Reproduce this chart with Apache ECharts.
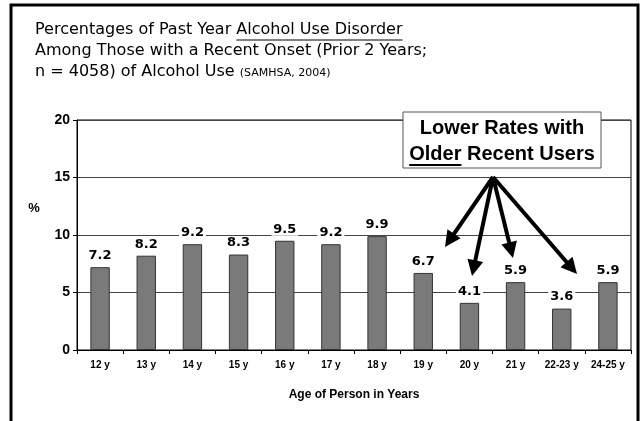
<!DOCTYPE html>
<html><head><meta charset="utf-8">
<script src="https://cdn.jsdelivr.net/npm/echarts@6/dist/echarts.min.js"></script>
<style>html,body{margin:0;padding:0;background:#fff}#c{width:640px;height:421px}</style>
</head><body><div id="c"></div>
<script>
var categories = ['12 y','13 y','14 y','15 y','16 y','17 y','18 y','19 y','20 y','21 y','22-23 y','24-25 y'];
var values = [7.2, 8.2, 9.2, 8.3, 9.5, 9.2, 9.9, 6.7, 4.1, 5.9, 3.6, 5.9];
var yTicks = [0, 5, 10, 15, 20];

var chart = echarts.init(document.getElementById('c'), null, {renderer:'canvas'});

var TF = 'DejaVu Sans';
var ctx = document.createElement('canvas').getContext('2d');
function tw(text, font){ ctx.font = font; return ctx.measureText(text).width; }

var titleFont = '16px "' + TF + '"';
var tx = 35;
var l1a = 'Percentages of Past Year ', l1b = 'Alcohol Use Disorder';
var l3a = 'n = 4058) of Alcohol Use ', l3b = '(SAMHSA, 2004)';
var boxFont = 'bold 20px "Liberation Sans"';

function arrow(x1,y1,x2,y2){
  var dx=x2-x1, dy=y2-y1, L=Math.sqrt(dx*dx+dy*dy), ux=dx/L, uy=dy/L;
  var hl=16, hw=8;
  var bx=x2-ux*hl, by=y2-uy*hl;
  return [
    {type:'line', shape:{x1:x1,y1:y1,x2:x2-ux*8,y2:y2-uy*8}, style:{stroke:'#000', lineWidth:4}, z:10},
    {type:'polygon', shape:{points:[[x2,y2],[bx-uy*hw,by+ux*hw],[bx+uy*hw,by-ux*hw]]}, style:{fill:'#000'}, z:10}
  ];
}

var graphics = [
  {type:'rect', shape:{x:11,y:5,width:627,height:430}, style:{fill:'none', stroke:'#000', lineWidth:3}, z:0},
  {type:'text', x:tx, y:30, style:{text:l1a+l1b, font:titleFont, fill:'#000', textVerticalAlign:'middle'}},
  {type:'line', shape:{x1:tx+tw(l1a,titleFont), y1:40, x2:tx+tw(l1a+l1b,titleFont), y2:40}, style:{stroke:'#000', lineWidth:1}},
  {type:'text', x:tx, y:51, style:{text:'Among Those with a Recent Onset (Prior 2 Years;', font:titleFont, fill:'#000', textVerticalAlign:'middle'}},
  {type:'text', x:tx, y:72, style:{text:l3a, font:titleFont, fill:'#000', textVerticalAlign:'middle'}},
  {type:'text', x:tx+tw(l3a,titleFont), y:73, style:{text:l3b, font:'11px "'+TF+'"', fill:'#000', textVerticalAlign:'middle'}},
  {type:'text', x:34, y:208, style:{text:'%', font:'bold 13px "Liberation Sans"', fill:'#000', textAlign:'center', textVerticalAlign:'middle'}},
  {type:'rect', shape:{x:403,y:112,width:198,height:56}, style:{fill:'#fff', stroke:'#555', lineWidth:1}, z:20},
  {type:'text', x:502, y:128, style:{text:'Lower Rates with', font:boxFont, fill:'#000', textAlign:'center', textVerticalAlign:'middle'}, z:21},
  {type:'text', x:502, y:154, style:{text:'Older Recent Users', font:boxFont, fill:'#000', textAlign:'center', textVerticalAlign:'middle'}, z:21}
];
(function(){
  var full = tw('Older Recent Users', boxFont), o = tw('Older', boxFont);
  var sx = 502 - full/2;
  graphics.push({type:'line', shape:{x1:sx, y1:165, x2:sx+o, y2:165}, style:{stroke:'#000', lineWidth:2}, z:21});
})();
var ox=493, oy=177;
[[445,247],[472,276],[513,258],[577,274]].forEach(function(t){
  graphics = graphics.concat(arrow(ox,oy,t[0],t[1]));
});

chart.setOption({
  animation:false,
  backgroundColor:'#fff',
  grid:{left:77, right:9, top:120, bottom:71, show:true, borderColor:'#000', borderWidth:1, backgroundColor:'transparent'},
  xAxis:{
    type:'category', data:categories,
    axisLine:{lineStyle:{color:'#000', width:1}},
    axisTick:{show:true, length:4, lineStyle:{color:'#000'}},
    axisLabel:{color:'#000', fontSize:10, fontWeight:'bold', fontFamily:'Liberation Sans', margin:10, interval:0},
    name:'Age of Person in Years', nameLocation:'middle', nameGap:39,
    nameTextStyle:{color:'#000', fontSize:12, fontWeight:'bold', fontFamily:'Liberation Sans'}
  },
  yAxis:{
    type:'value', min:yTicks[0], max:yTicks[yTicks.length-1], interval:5,
    axisLine:{show:true, lineStyle:{color:'#000'}},
    axisTick:{show:true, length:4, inside:false, lineStyle:{color:'#000'}},
    axisLabel:{color:'#000', fontSize:14, fontWeight:'bold', fontFamily:'Liberation Sans', margin:7},
    splitLine:{lineStyle:{color:'#444', width:1}}
  },
  series:[{
    type:'bar', data:values, barWidth:'42%',
    itemStyle:{color:'#7a7a7a', borderColor:'#333', borderWidth:1},
    label:{show:true, position:'top', distance:5, color:'#000', fontSize:13, fontWeight:'bold', fontFamily:'DejaVu Sans',
      backgroundColor:'#fff', padding:[0,2], formatter:function(p){return p.value.toFixed(1);}}
  }],
  graphic:graphics
});
</script></body></html>
